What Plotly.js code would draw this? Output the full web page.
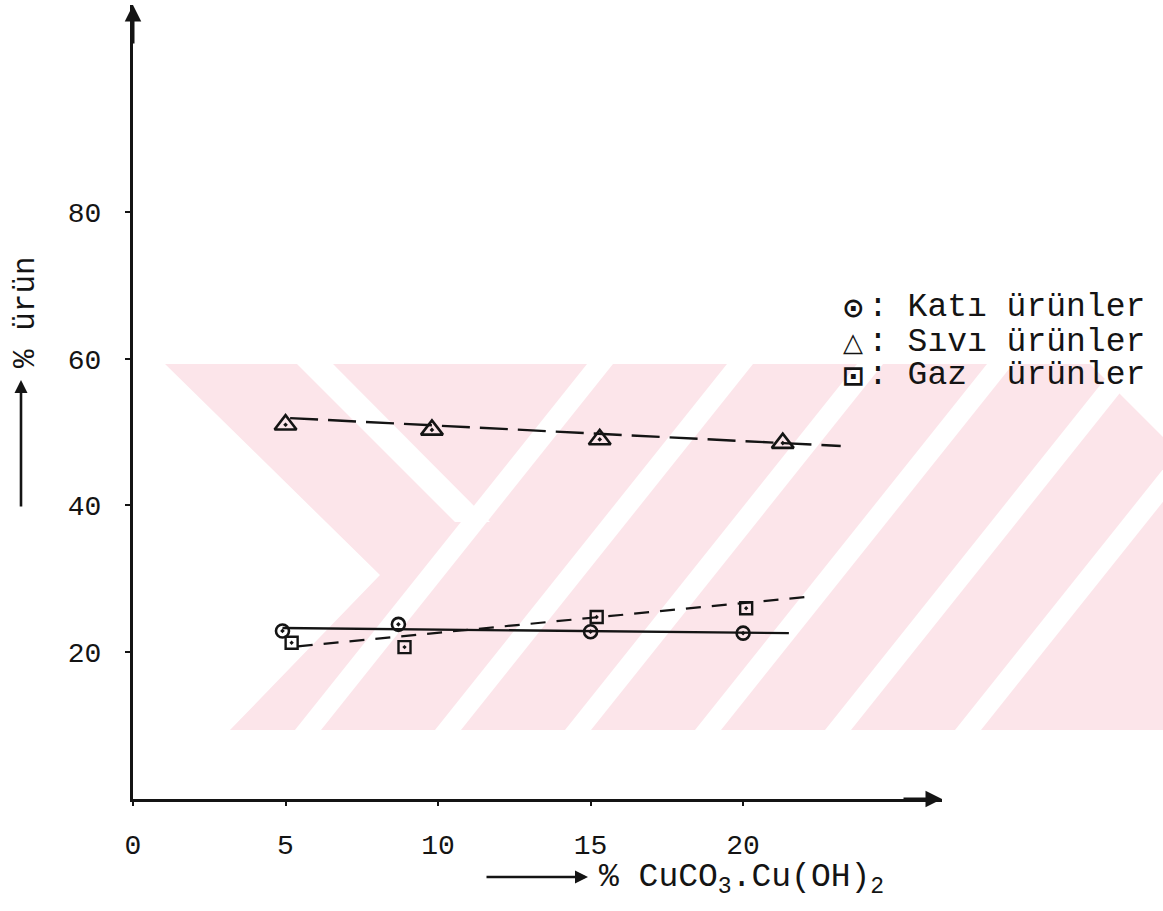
<!DOCTYPE html>
<html>
<head>
<meta charset="utf-8">
<script src="https://cdn.plot.ly/plotly-3.0.1.min.js"></script>
<style>
  html, body { margin: 0; padding: 0; background: #ffffff; }
  #chart { width: 1163px; height: 911px; }
</style>
</head>
<body>
<div id="chart"></div>
<script>
// Ürün dağılımı – katalizör oranına göre (% CuCO3.Cu(OH)2)

// Katı ürünler (o)
const katiX = [4.9, 8.7, 15.0, 20.0];
const katiY = [22.9, 23.8, 22.8, 22.6];
const katiFitX = [4.9, 21.5];
const katiFitY = [23.3, 22.6];

// Sıvı ürünler (Δ)
const siviX = [5.0, 9.8, 15.3, 21.3];
const siviY = [51.0, 50.3, 49.0, 48.5];
const siviFitX = [5.15, 23.2];
const siviFitY = [51.9, 48.1];

// Gaz ürünler (□)
const gazX = [5.2, 8.9, 15.2, 20.1];
const gazY = [21.3, 20.7, 24.8, 26.0];
const gazFitX = [5.4, 22.35];
const gazFitY = [20.8, 27.65];

// Eksen işaretleri
const xTickVals = [0, 5, 10, 15, 20];
const xTickText = ['0', '5', '10', '15', '20'];
const yTickVals = [20, 40, 60, 80];
const yTickText = ['20', '40', '60', '80'];

const legendSymbols = ['\u2299', '\u25B3', '\u22A1'];
const legendLabels = [': Katı ürünler', ': Sıvı ürünler', ': Gaz\u00a0 ürünler'];

const INK = '#141414';
const MONO = 'Liberation Mono, DejaVu Sans Mono, monospace';

const traces = [
  { x: katiFitX, y: katiFitY, mode: 'lines', line: { color: INK, width: 2.4 }, hoverinfo: 'skip' },
  { x: siviFitX, y: siviFitY, mode: 'lines', line: { color: INK, width: 2.4, dash: '28px,10px' }, hoverinfo: 'skip' },
  { x: gazFitX, y: gazFitY, mode: 'lines', line: { color: INK, width: 2.2, dash: '15px,11px' }, hoverinfo: 'skip' },
  { x: katiX, y: katiY, mode: 'markers', name: 'Katı ürünler',
    marker: { symbol: 'circle-open-dot', size: 13, color: INK, line: { color: INK, width: 2.6 } } },
  { x: siviX, y: siviY, mode: 'markers', name: 'Sıvı ürünler',
    marker: { symbol: 'triangle-up-open-dot', size: 19, color: INK, line: { color: INK, width: 2.6 } } },
  { x: gazX, y: gazY, mode: 'markers', name: 'Gaz ürünler',
    marker: { symbol: 'square-open-dot', size: 12, color: INK, line: { color: INK, width: 2.4 } } }
];

// plot area: 133..942 px horizontally, 5..799 px vertically
const L = 133, R = 942, T = 5, B = 799;
const px = v => (v - L) / (R - L);
const py = v => (B - v) / (B - T);

// background stamp (light pink hatched emblem), given in page pixels
const STAMP = '#fce5ea';
const SY0 = 364, SY1 = 730;
const toPath = pts => 'M ' + pts.map(p => px(p[0]).toFixed(4) + ',' + py(p[1]).toFixed(4)).join(' L ') + ' Z';
const stampShapes = [];
stampShapes.push({ type: 'path', xref: 'paper', yref: 'paper', layer: 'below',
  path: toPath([[165, SY0], [1090, SY0], [1163, 437], [1163, SY1], [230, SY1], [380, 575]]),
  fillcolor: STAMP, line: { width: 0 } });
[420, 560, 690, 820, 950, 1080].forEach(c => {
  stampShapes.push({ type: 'path', xref: 'paper', yref: 'paper', layer: 'below',
    path: toPath([[c + 167, SY0], [c + 193, SY0], [c - 99, SY1], [c - 125, SY1]]),
    fillcolor: '#ffffff', line: { width: 0 } });
});
stampShapes.push({ type: 'path', xref: 'paper', yref: 'paper', layer: 'below',
  path: toPath([[297, SY0], [333, SY0], [490, 522], [455, 522]]),
  fillcolor: '#ffffff', line: { width: 0 } });

const legendRowsY = [307, 342, 375];
const legendSymbolSize = [27, 26, 27];

const annotations = [];
// axis arrow heads
annotations.push({ xref: 'x', yref: 'y', x: 0, y: 108.2, ax: 0, ay: 40, text: '',
  showarrow: true, arrowhead: 2, arrowsize: 1.1, arrowwidth: 3, arrowcolor: INK, standoff: 0 });
annotations.push({ xref: 'x', yref: 'y', x: 26.52, y: 0, ax: -40, ay: 0, text: '',
  showarrow: true, arrowhead: 2, arrowsize: 1.1, arrowwidth: 3, arrowcolor: INK, standoff: 0 });

// y axis title with arrow
annotations.push({ xref: 'paper', yref: 'paper', x: px(25), y: py(312), text: '% ürün',
  textangle: -90, showarrow: false, xanchor: 'center', yanchor: 'middle',
  font: { family: MONO, size: 31, color: INK } });
annotations.push({ xref: 'paper', yref: 'paper', x: px(21), y: py(380), ax: 0, ay: 128, text: '',
  showarrow: true, arrowhead: 2, arrowsize: 1, arrowwidth: 2.6, arrowcolor: INK, standoff: 0 });

// x axis title with arrow
annotations.push({ xref: 'paper', yref: 'paper', x: px(597), y: py(879),
  text: '% CuCO<sub>3</sub>.Cu(OH)<sub>2</sub>',
  showarrow: false, xanchor: 'left', yanchor: 'middle',
  font: { family: MONO, size: 33, color: INK } });
annotations.push({ xref: 'paper', yref: 'paper', x: px(588), y: py(877), ax: -103, ay: 0, text: '',
  showarrow: true, arrowhead: 2, arrowsize: 1, arrowwidth: 2.6, arrowcolor: INK, standoff: 0 });

// legend rows
legendLabels.forEach((lab, i) => {
  annotations.push({ xref: 'paper', yref: 'paper', x: px(853), y: py(legendRowsY[i]),
    text: legendSymbols[i], showarrow: false, xanchor: 'center', yanchor: 'middle',
    font: { family: 'DejaVu Sans', size: legendSymbolSize[i], color: INK, weight: 700 } });
  annotations.push({ xref: 'paper', yref: 'paper', x: px(866), y: py(legendRowsY[i]),
    text: lab, showarrow: false, xanchor: 'left', yanchor: 'middle',
    font: { family: MONO, size: 33, color: INK } });
});

const layout = {
  width: 1163, height: 911,
  margin: { l: L, r: 1163 - R, t: T, b: 911 - B, pad: 0 },
  paper_bgcolor: '#ffffff', plot_bgcolor: 'rgba(0,0,0,0)',
  showlegend: false,
  xaxis: {
    range: [0, 26.52], showgrid: false, zeroline: false,
    showline: true, linecolor: INK, linewidth: 3,
    tickmode: 'array', tickvals: xTickVals, ticktext: xTickText,
    ticks: 'outside', ticklen: 4, tickwidth: 2, tickcolor: INK,
    ticklabelstandoff: 14,
    tickfont: { family: MONO, size: 28, color: INK }
  },
  yaxis: {
    range: [0, 108.2], showgrid: false, zeroline: false,
    showline: true, linecolor: INK, linewidth: 3,
    tickmode: 'array', tickvals: yTickVals, ticktext: yTickText,
    ticks: 'outside', ticklen: 5, tickwidth: 2, tickcolor: INK,
    ticklabelstandoff: 18,
    tickfont: { family: MONO, size: 28, color: INK }
  },
  shapes: stampShapes,
  annotations: annotations
};

Plotly.newPlot('chart', traces, layout, { displayModeBar: false, staticPlot: true });
</script>
</body>
</html>
